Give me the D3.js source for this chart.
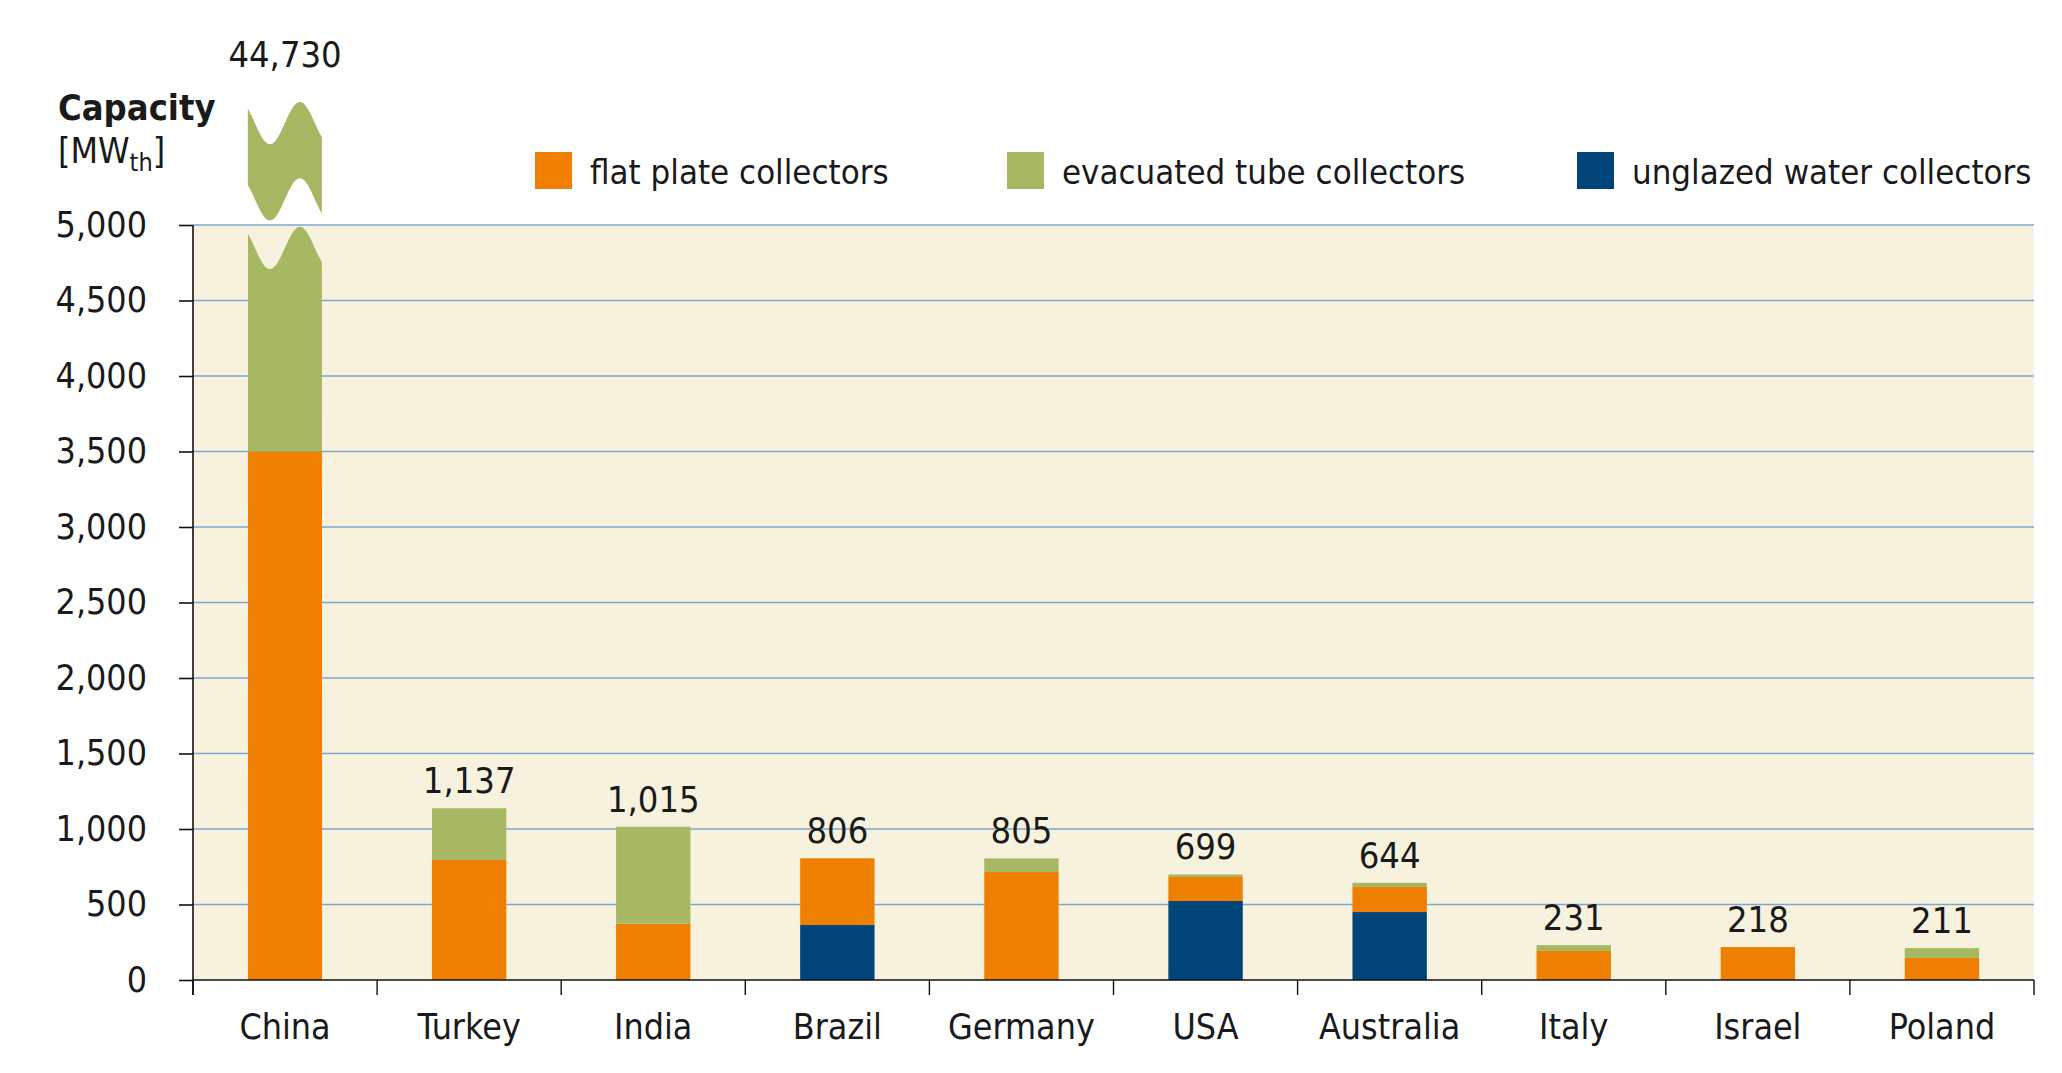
<!DOCTYPE html>
<html><head><meta charset="utf-8">
<script src="https://cdn.jsdelivr.net/npm/d3@7"></script>
<style>
body{margin:0;background:#fff;}
text{font-family:"DejaVu Sans Condensed","DejaVu Sans",sans-serif;font-stretch:condensed;fill:#1a1a1a;}
</style></head><body>
<svg id="c" width="2062" height="1073"></svg>
<script>
// ---- data ----
const categories = ["China","Turkey","India","Brazil","Germany","USA","Australia","Italy","Israel","Poland"];
const flatPlate     = [3500, 795, 373, 442, 715, 159, 166, 192, 218, 146];
const evacuatedTube = [41230, 342, 642, 0, 90, 17, 28, 39, 0, 65];
const unglazedWater = [0, 0, 0, 364, 0, 523, 450, 0, 0, 0];
const totals        = [44730, 1137, 1015, 806, 805, 699, 644, 231, 218, 211];
const yTickValues   = [0,500,1000,1500,2000,2500,3000,3500,4000,4500,5000];
const seriesKeys    = ["unglazed","flat","evac"];
const legendOrder   = ["flat","evac","unglazed"];
const seriesLabels  = {flat:"flat plate collectors", evac:"evacuated tube collectors", unglazed:"unglazed water collectors"};
const seriesColors  = {flat:"#EF7F00", evac:"#A6B862", unglazed:"#00447A"};
// axis break (data units above the visible scale)
const breakLow = 4848, breakUpperBottom = 5170, breakUpperTop = 5675, breakAmp = 140;

(function(){
const rows = categories.map((c,i)=>({cat:c, flat:flatPlate[i], evac:evacuatedTube[i], unglazed:unglazedWater[i], total:totals[i]}));

const svg = d3.select("#c");
const pLeft = 193, pRight = 2034, pTop = 225, pBottom = 980;
const yMax = 5000;

const x = d3.scaleBand().domain(categories).range([pLeft,pRight]).paddingInner(0.596).paddingOuter(0.298);
const y = d3.scaleLinear().domain([0,yMax]).range([pBottom,pTop]);

// background
svg.append("rect").attr("x",pLeft).attr("y",y(yMax)).attr("width",pRight-pLeft).attr("height",y(0)-y(yMax)).attr("fill","#F7F2DE");

// gridlines
svg.append("g").selectAll("line").data(yTickValues.filter(d=>d>0)).join("line")
  .attr("x1",pLeft).attr("x2",pRight).attr("y1",d=>y(d)).attr("y2",d=>y(d))
  .attr("stroke","#7EA6CF").attr("stroke-width",1.6);

// stacks
const stack = d3.stack().keys(seriesKeys)(rows);
const bw = x.bandwidth();
const wave = (xrel, center) => y(center) + (y(0)-y(breakAmp)) * Math.cos(2*Math.PI*(xrel - 0.296*bw)/(0.806*bw));

// clip for broken bars
const defs = svg.append("defs");
rows.forEach((r,i)=>{
  if (r.total > yMax){
    const x0 = x(r.cat);
    const p = d3.path();
    p.moveTo(x0, y(0)+5);
    d3.range(0, bw+0.01, 1).forEach(t=>p.lineTo(x0+t, wave(t, breakLow)));
    p.lineTo(x0+bw, y(0)+5); p.closePath();
    defs.append("clipPath").attr("id","clip"+i).append("path").attr("d",p.toString());
  }
});

const gBars = svg.append("g");
stack.forEach(layer=>{
  gBars.append("g").attr("fill",seriesColors[layer.key]).selectAll("rect").data(layer).join("rect")
    .attr("x",d=>x(d.data.cat)).attr("width",bw)
    .attr("y",d=>y(Math.min(d[1],yMax)))
    .attr("height",d=>Math.max(0, y(Math.min(d[0],yMax)) - y(Math.min(d[1],yMax))))
    .attr("clip-path",(d,i)=> rows[i].total>yMax ? `url(#clip${i})` : null);
});

// upper piece of broken bars
rows.forEach((r,i)=>{
  if (r.total > yMax){
    const x0 = x(r.cat);
    const ts = d3.range(0, bw+0.01, 1);
    const p = d3.path();
    ts.forEach((t,k)=>{ const yy = wave(t, breakUpperTop); k? p.lineTo(x0+t,yy) : p.moveTo(x0+t,yy); });
    ts.slice().reverse().forEach(t=>p.lineTo(x0+t, wave(t, breakUpperBottom)));
    p.closePath();
    svg.append("path").attr("d",p.toString()).attr("fill",seriesColors.evac);
  }
});

// axes
const axisColor = "#111";
svg.append("line").attr("x1",pLeft).attr("x2",pRight).attr("y1",y(0)).attr("y2",y(0)).attr("stroke",axisColor).attr("stroke-width",1.6);
const step = x.step();
svg.append("g").selectAll("line").data(d3.range(categories.length+1)).join("line")
  .attr("x1",d=>pLeft+d*step).attr("x2",d=>pLeft+d*step).attr("y1",y(0)).attr("y2",y(0)+15)
  .attr("stroke",axisColor).attr("stroke-width",1.4);

const yAxis = svg.append("g").attr("transform",`translate(${pLeft},0)`)
  .call(d3.axisLeft(y).tickValues(yTickValues).tickSize(14).tickPadding(32).tickFormat(d3.format(",")));
yAxis.select(".domain").remove();
yAxis.selectAll(".tick line").attr("stroke",axisColor).attr("stroke-width",1.6);
yAxis.selectAll(".tick text").attr("font-size",35.5).attr("font-family",null).attr("fill","#1a1a1a");
yAxis.attr("font-family",null).attr("font-size",null);
svg.append("line").attr("x1",pLeft).attr("x2",pLeft).attr("y1",y(yMax)).attr("y2",y(0)+15).attr("stroke",axisColor).attr("stroke-width",1.6);

// category labels
svg.append("g").selectAll("text").data(categories).join("text")
  .attr("x",d=>x(d)+bw/2).attr("y",y(0)+59).attr("text-anchor","middle").attr("font-size",35.5).text(d=>d);

// value labels
const fmt = d3.format(",");
svg.append("g").selectAll("text").data(rows).join("text")
  .attr("x",d=>x(d.cat)+bw/2)
  .attr("y",d=> d.total>yMax ? y(breakUpperTop)-56 : y(d.total)-15)
  .attr("text-anchor","middle").attr("font-size",36).text(d=>fmt(d.total));

// axis title
svg.append("text").attr("x",58).attr("y",120).attr("font-size",36).attr("font-weight","bold").text("Capacity");
const unit = svg.append("text").attr("x",58).attr("y",163).attr("font-size",35.5);
unit.append("tspan").text("[MW");
unit.append("tspan").attr("font-size",25).attr("dy",8).text("th");
unit.append("tspan").attr("dy",-8).text("]");

// legend
const legendX = [535, 1007, 1577];
const lg = svg.append("g").selectAll("g").data(legendOrder).join("g")
  .attr("transform",(d,i)=>`translate(${legendX[i]},152)`);
lg.append("rect").attr("width",37).attr("height",37).attr("fill",d=>seriesColors[d]);
lg.append("text").attr("x",55).attr("y",32).attr("font-size",34.5).text(d=>seriesLabels[d]);
})();
</script>
</body></html>
